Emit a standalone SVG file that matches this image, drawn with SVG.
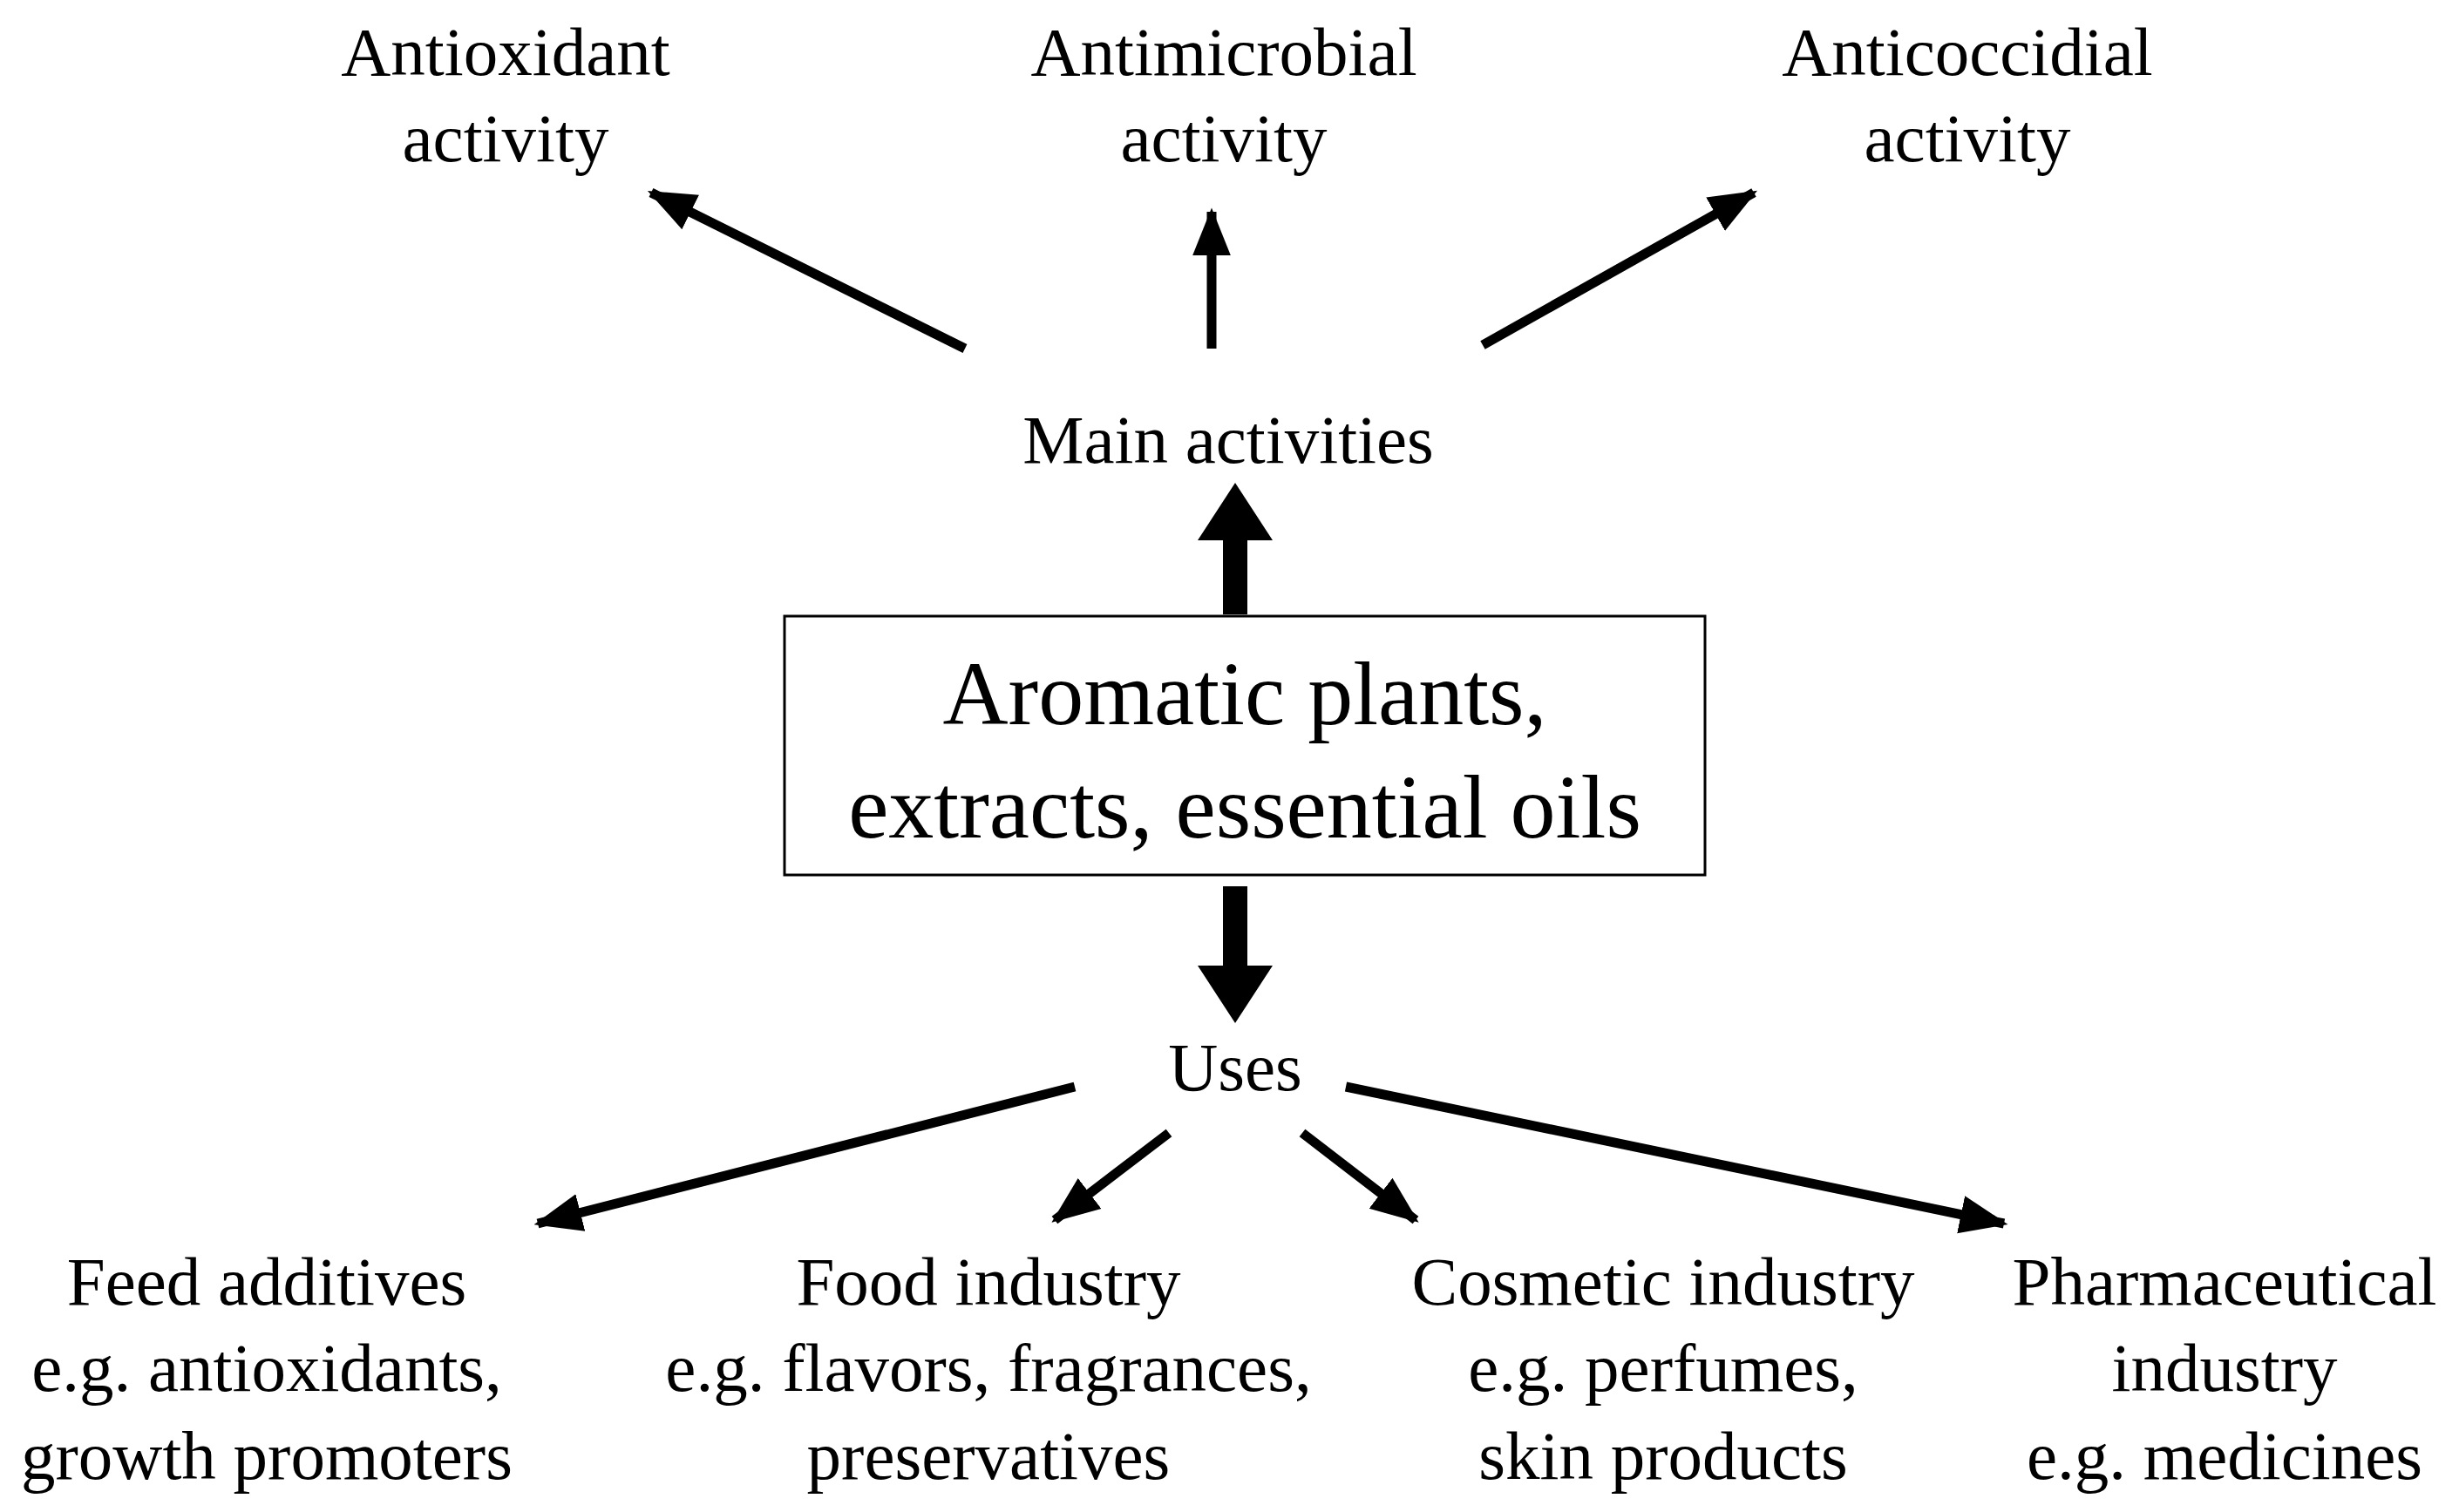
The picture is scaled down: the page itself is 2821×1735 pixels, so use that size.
<svg xmlns="http://www.w3.org/2000/svg" width="2821" height="1735" viewBox="0 0 2821 1735">
<style>
text{font-family:"Liberation Serif","Times New Roman",serif;fill:#000;text-anchor:middle}
.t{font-size:79px}
.b{font-size:104px}
.c{stroke:#000;stroke-width:11;fill:none;marker-end:url(#ah)}
</style>
<defs>
<marker id="ah" markerUnits="strokeWidth" viewBox="0 0 6 6" refX="5.5" refY="3" markerWidth="5" markerHeight="5" orient="auto">
<path d="M0,0.6 L6,3 L0,5.4 Z" fill="#000"/>
</marker>
</defs>
<rect width="2821" height="1735" fill="#fff"/>
<g id="connectors">
<line class="c" x1="1107" y1="400" x2="747" y2="221"/>
<line class="c" x1="1390" y1="400" x2="1390" y2="243"/>
<line class="c" x1="1701" y1="396" x2="2012" y2="221"/>
<polygon points="1403,705 1431,705 1431,620 1460,620 1417,554 1374,620 1403,620"/>
<polygon points="1403,1017 1431,1017 1431,1108 1460,1108 1417,1174 1374,1108 1403,1108"/>
<line class="c" x1="1233" y1="1247" x2="617" y2="1404"/>
<line class="c" x1="1341" y1="1300" x2="1210" y2="1400"/>
<line class="c" x1="1494" y1="1300" x2="1624" y2="1400"/>
<line class="c" x1="1544" y1="1247" x2="2299" y2="1404"/>
</g>
<g id="antioxidant"><text class="t" x="580" y="86">Antioxidant</text><text class="t" x="580" y="185">activity</text></g>
<g id="antimicrobial"><text class="t" x="1404" y="86">Antimicrobial</text><text class="t" x="1404" y="185">activity</text></g>
<g id="anticoccidial"><text class="t" x="2257" y="86">Anticoccidial</text><text class="t" x="2257" y="185">activity</text></g>
<g id="main"><text class="t" x="1409" y="531">Main activities</text></g>
<g id="box"><rect x="900" y="707" width="1056" height="297" fill="#fff" stroke="#000" stroke-width="3"/>
<text class="b" x="1428" y="831">Aromatic plants,</text><text class="b" x="1428" y="961">extracts, essential oils</text></g>
<g id="uses"><text class="t" x="1417" y="1251">Uses</text></g>
<g id="feed"><text class="t" x="306" y="1497">Feed additives</text><text class="t" x="306" y="1596">e.g. antioxidants,</text><text class="t" x="306" y="1697">growth promoters</text></g>
<g id="food"><text class="t" x="1134" y="1497">Food industry</text><text class="t" x="1134" y="1596">e.g. flavors, fragrances,</text><text class="t" x="1134" y="1697">preservatives</text></g>
<g id="cosmetic"><text class="t" x="1908" y="1497">Cosmetic industry</text><text class="t" x="1908" y="1596">e.g. perfumes,</text><text class="t" x="1908" y="1697">skin products</text></g>
<g id="pharma"><text class="t" x="2552" y="1497">Pharmaceutical</text><text class="t" x="2552" y="1596">industry</text><text class="t" x="2552" y="1697">e.g. medicines</text></g>
</svg>
